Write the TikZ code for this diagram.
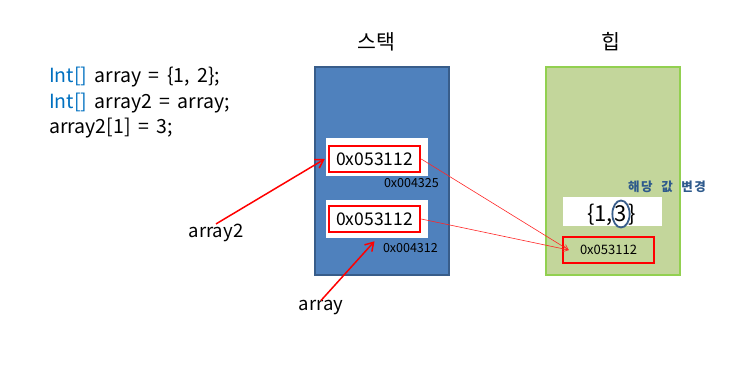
\documentclass[tikz,border=0pt]{standalone}
\usepackage{fontspec}
\usepackage{xcolor}
\setmainfont{Noto Sans CJK KR}
\newfontfamily\codefont[WordSpace=1.7]{Noto Sans CJK KR}
\newfontfamily\notefont[LetterSpace=12, WordSpace=2]{Noto Sans CJK KR}
\usetikzlibrary{positioning, arrows.meta, shapes.geometric}

\definecolor{stackblue}{HTML}{4F81BD}
\definecolor{stackedge}{HTML}{385D8A}
\definecolor{heapgreen}{HTML}{C3D69B}
\definecolor{heapedge}{HTML}{92D050}
\definecolor{codeblue}{HTML}{0070C0}
\definecolor{notenavy}{HTML}{2E5A8C}

\begin{document}
\begin{tikzpicture}[
  x=1pt, y=-1pt,
  area/.style={draw, line width=2pt, minimum width=134pt, minimum height=208pt,
    anchor=north west},
  slot/.style={fill=white, minimum width=102pt, minimum height=38pt, anchor=north west},
  ref/.style={draw=red, line width=2.5pt, fill=white, minimum width=91pt,
    minimum height=26pt, inner sep=0pt, font=\fontsize{17.5}{17.5}\selectfont},
  addr/.style={font=\fontsize{12.5}{12.5}\selectfont, inner sep=0pt},
  title/.style={font=\fontsize{20.5}{20.5}\selectfont},
  label/.style={font=\fontsize{18.5}{18.5}\selectfont, inner sep=0pt},
  digit/.style={font=\fontsize{22}{22}\selectfont, inner sep=0pt},
  arr/.style={-{Straight Barb[length=8pt, width=10pt]}, red, line width=1.5pt},
  ptr/.style={-{Straight Barb[length=5pt, width=6pt]}, red!85!white, line width=0.6pt},
]
  \useasboundingbox (0,0) rectangle (730,364);

  % code
  \node[anchor=north west, align=left, inner sep=0pt,
    font=\codefont\fontsize{19.5}{25.5}\selectfont] (code) at (49,67)
    {\textcolor{codeblue}{Int[]} array = \{1, 2\};\\
     \textcolor{codeblue}{Int[]} array2 = array;\\
     array2[1] = 3;};

  % stack
  \node[title] (stacktitle) at (376,42) {스택};
  \node[area, fill=stackblue, draw=stackedge] (stack) at (314,66) {};
  \node[slot] (slot2) at (326,138) {};
  \node[ref] (ref2) at (374.5,159) {0x053112};
  \node[addr, anchor=north east] (addr2) at (439,178) {0x004325};
  \node[slot] (slot1) at (326,200) {};
  \node[ref] (ref1) at (374.5,219) {0x053112};
  \node[addr, anchor=north east] (addr1) at (438,243) {0x004312};

  % heap
  \node[title] (heaptitle) at (611,42) {힙};
  \node[area, fill=heapgreen, draw=heapedge] (heap) at (545,66) {};
  \node[fill=white, minimum width=99pt, minimum height=29pt] (value) at (612.5,211.5) {};
  \node[digit, draw=stackedge, line width=1.8pt, ellipse, minimum width=16pt,
    minimum height=27pt] (mark) at (621,214) {3};
  \node[digit, anchor=base east] (open) at ([xshift=-8pt]mark.base) {\{1,};
  \node[digit, anchor=base west] (close) at ([xshift=7pt]mark.base) {\}};
  \node[ref, fill=none, font=\fontsize{13}{13}\selectfont] (heapref) at (608.5,250) {0x053112};
  \node[font=\notefont\bfseries\fontsize{12.5}{12.5}\selectfont, text=notenavy]
    (note) at (667,187) {해당 값 변경};

  % variables
  \node[label] (var2) at (216,233) {array2};
  \node[label] (var1) at (321,308) {array};

  \draw[arr] (var2.north) -- ([xshift=-3pt]ref2.west);
  \draw[arr] (var1.north) -- ([yshift=-8pt]ref1.south);
  \draw[ptr] (ref2.east) -- ([xshift=7pt]heapref.west);
  \draw[ptr] (ref1.east) -- ([xshift=7pt]heapref.west);
\end{tikzpicture}
\end{document}
